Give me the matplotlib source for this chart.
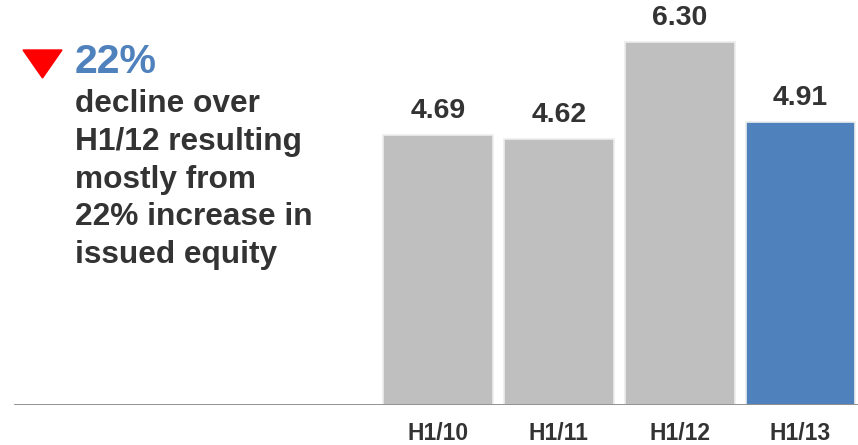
import numpy as np
import matplotlib.pyplot as plt
from matplotlib.patches import Polygon

plt.rcParams['font.family'] = ['Liberation Sans', 'DejaVu Sans']

# 半年度数据
periods = ["H1/10", "H1/11", "H1/12", "H1/13"]
values = [4.69, 4.62, 6.30, 4.91]
bar_colors = ["#BFBFBF", "#BFBFBF", "#BFBFBF", "#4F81BD"]

change_text = "22%"
note_lines = ["decline over", "H1/12 resulting", "mostly from",
              "22% increase in", "issued equity"]

fig = plt.figure(figsize=(8.58, 4.45), dpi=100)
ax = fig.add_axes([0, 40 / 445, 1, 405 / 445])

x = np.arange(len(periods))
bars = ax.bar(x, values, width=0.91, color=bar_colors,
              edgecolor="#EDEDED", linewidth=1.2, zorder=2)

for b, v in zip(bars, values):
    ax.annotate(f"{v:.2f}", (b.get_x() + b.get_width() / 2, v),
                xytext=(0, 8), textcoords="offset points",
                ha="center", va="bottom", fontsize=20.5,
                fontweight="bold", color="#333333")

ax.set_xlim(-3.625, 3.476)
ax.set_ylim(0, 7.03)
ax.axhline(0, xmin=15 / 858, xmax=1, color="#888888", lw=2, zorder=3)

for xi, lab in zip(x, periods):
    ax.annotate(lab, (xi, 0), xytext=(0, -12), textcoords="offset points",
                ha="center", va="top", fontsize=16.5, fontweight="bold",
                color="#333333", annotation_clip=False)

ax.axis("off")

# 左侧说明文字
fig.text(75 / 858, 1 - 73 / 445, change_text, fontsize=29.5, fontweight="bold",
         color="#4F81BD", ha="left", va="baseline")
fig.text(75 / 858, 1 - 89 / 445, "\n".join(note_lines), fontsize=22.8,
         fontweight="bold", color="#333333", ha="left", va="top",
         linespacing=1.34)

tri = Polygon([[23 / 858, 1 - 50 / 445], [62 / 858, 1 - 50 / 445],
               [42.5 / 858, 1 - 78 / 445]], closed=True,
              transform=fig.transFigure, color="#FF0000")
fig.patches.append(tri)

plt.savefig("out.png", dpi=100)
